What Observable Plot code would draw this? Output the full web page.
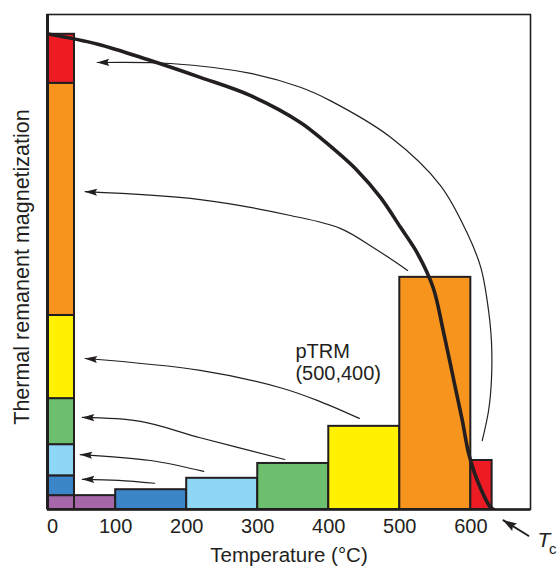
<!DOCTYPE html>
<html><head><meta charset="utf-8">
<script src="https://cdn.jsdelivr.net/npm/d3@7"></script>
<script src="https://cdn.jsdelivr.net/npm/@observablehq/plot@0.6"></script>
<style>
html,body{margin:0;padding:0;background:#fff;}
</style>
</head><body><div id="chart"></div>
<script>
// ---- data ----
const stepStart = [0, 100, 200, 300, 400, 500, 600];
const stepEnd   = [100, 200, 300, 400, 500, 600, 630];
const pTRM      = [2.8, 4.0, 6.3, 9.3, 16.8, 46.9, 9.9];
const stepColors = ["#A567A8", "#3A86C8", "#8ED6F6", "#6CBF6E", "#FFF100", "#F7941E", "#ED1C24"];

const curveT = [0, 75, 149, 219, 290, 360, 393, 440, 473, 501, 525, 547, 561, 576, 588, 597, 609, 628, 632];
const curveM = [96.2, 94.0, 90.7, 87.3, 83.6, 78.2, 74.5, 68.5, 63.0, 57.0, 51.7, 44.8, 36.2, 26.1, 18.0, 11.3, 5.9, 0.4, 0];

const arrowRed    = [[74, 90.3], [177, 90.1], [290, 88.1], [360, 85.3], [402, 82.6], [487, 75.2], [557, 65.5], [595, 55.8], [614, 48.9], [623, 42.2], [629, 34.1], [629, 26.1], [625, 20.0], [616, 13.9]];
const arrowOrange = [[57, 64.2], [219, 62.6], [346, 59.4], [416, 56.8], [463, 52.9], [511, 48.3]];
const arrowYellow = [[57, 30.5], [219, 28.1], [332, 24.6], [388, 21.8], [443, 18.4]];
const arrowGreen  = [[53, 18.6], [135, 17.8], [219, 14.5], [338, 10.1]];
const arrowLight  = [[50, 11.1], [149, 9.9], [224, 7.7]];
const arrowBlue   = [[53, 6.1], [104, 5.9], [155, 5.3]];
const arrowTc     = [[646, -2.2], [681, -5.3]];

const xTicks = [100, 200, 300, 400, 500, 600];
const zeroTick = [0];
const labelText = ["pTRM\n(500,400)"];
const labelT = [353];
const labelM = [33.7];
const xTitle = "Temperature (°C)";
const yTitle = "Thermal remanent magnetization";

// ---- build ----
const xDomain = [4, 684];
const colWidth = 42;
const ink = "#231F20";
const font = "'Liberation Sans', Arial, Helvetica, sans-serif";

const cum = d3.cumsum(pTRM);
const steps = stepStart.map((s, i) => ({start: s, end: stepEnd[i], m: pTRM[i], color: stepColors[i], lo: cum[i] - pTRM[i], hi: cum[i]}));
const curve = curveT.map((t, i) => ({t, m: curveM[i]}));
const arrowSets = {red: arrowRed, orange: arrowOrange, yellow: arrowYellow, green: arrowGreen, light: arrowLight, blue: arrowBlue};
const arrows = Object.entries(arrowSets).flatMap(([id, pts]) => pts.map(([t, m]) => ({id, t, m})));
const tcArrow = arrowTc.map(([t, m]) => ({t, m}));

function makeHead(len, half) {
  return function (color, context) {
    const doc = (context && context.document) || document;
    const ns = "http://www.w3.org/2000/svg";
    const mk = doc.createElementNS(ns, "marker");
    mk.setAttribute("viewBox", `${-len - 1} ${-half - 1} ${len + 2} ${2 * half + 2}`);
    mk.setAttribute("markerWidth", len + 2);
    mk.setAttribute("markerHeight", 2 * half + 2);
    mk.setAttribute("markerUnits", "userSpaceOnUse");
    mk.setAttribute("orient", "auto-start-reverse");
    mk.setAttribute("refX", 0);
    mk.setAttribute("refY", 0);
    const p = doc.createElementNS(ns, "path");
    p.setAttribute("d", `M0.5,0L${-len},${-half}L${-len + 2},0L${-len},${half}Z`);
    p.setAttribute("fill", ink);
    p.setAttribute("stroke", "none");
    mk.appendChild(p);
    return mk;
  };
}

const chart = Plot.plot({
  width: 559,
  height: 566,
  marginTop: 14,
  marginRight: 29,
  marginBottom: 57,
  marginLeft: 47,
  style: {fontFamily: font, fontSize: "20px", background: "#fff", color: ink},
  x: {domain: xDomain, axis: null},
  y: {domain: [0, 100], axis: null},
  color: {type: "identity"},
  marks: [
    Plot.rect(steps, {x1: "start", x2: "end", y1: 0, y2: "m", fill: "color", stroke: ink, strokeWidth: 2, clip: true}),
    Plot.rect(steps, {x1: 0, x2: colWidth, y1: "lo", y2: "hi", fill: "color", stroke: ink, strokeWidth: 2, clip: true}),
    Plot.line(arrows, {x: "t", y: "m", z: "id", curve: "catmull-rom", stroke: ink, strokeWidth: 1.2, markerStart: makeHead(12, 3.6)}),
    Plot.line(curve, {x: "t", y: "m", curve: "catmull-rom", stroke: ink, strokeWidth: 3.6, clip: true}),
    Plot.line(tcArrow, {x: "t", y: "m", stroke: ink, strokeWidth: 2, markerStart: makeHead(13, 4.5)}),
    Plot.text(labelText, {x: labelT, y: labelM, text: d => d, textAnchor: "start", lineAnchor: "top", lineHeight: 1.08, fontSize: 20, fill: ink}),
    Plot.text(["T"], {x: [694], y: [-6.3], text: d => d, textAnchor: "start", fontSize: 21, fontStyle: "italic", fill: ink}),
    Plot.text(["c"], {x: [710], y: [-8.0], text: d => d, textAnchor: "start", fontSize: 15, fill: ink}),
    Plot.axisX(xTicks, {tickSize: 0, tickPadding: 9, fontSize: 20, fill: ink}),
    Plot.axisX(zeroTick, {tickSize: 0, tickPadding: 9, fontSize: 20, fill: ink, dx: 8}),
    Plot.text([xTitle], {frameAnchor: "bottom", text: d => d, lineAnchor: "top", dy: 38, fontSize: 20.5, fill: ink}),
    Plot.text([yTitle], {frameAnchor: "left", text: d => d, textAnchor: "middle", lineAnchor: "middle", rotate: -90, dx: -25, dy: 5, fontSize: 21.5, fill: ink}),
    Plot.frame({stroke: ink, strokeWidth: 1.6}),
    Plot.ruleX([xDomain[0]], {stroke: ink, strokeWidth: 3}),
    Plot.ruleY([0], {stroke: ink, strokeWidth: 2.6})
  ]
});
document.getElementById("chart").appendChild(chart);
</script>
</body></html>
